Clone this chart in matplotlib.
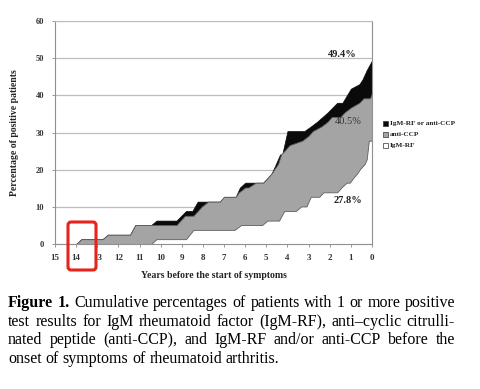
import matplotlib
matplotlib.use("Agg")
import matplotlib.pyplot as plt
from matplotlib.patches import FancyBboxPatch, Rectangle
from matplotlib.transforms import IdentityTransform

# cumulative % of patients, breakpoints (years before symptoms, percent)
total_years = [15, 14.0, 13.75, 12.75, 12.5, 11.45, 11.2, 10.45, 10.2, 9.25, 8.8, 8.5,
               8.25, 7.2, 7.0, 6.45, 6.25, 6.0, 5.15, 4.95, 4.75, 4.55, 4.35, 4.25,
               4.0, 3.2, 2.9, 2.6, 2.1, 1.65, 1.4, 1.0, 0.6, 0.45, 0.25, 0]
total_pct = [0, 0, 1.3, 1.3, 2.5, 2.5, 5.1, 5.1, 6.3, 6.3, 8.9, 8.9,
             11.4, 11.4, 12.7, 12.7, 15.2, 16.5, 16.5, 17.7, 19.0, 21.5, 24.1, 24.1,
             30.4, 30.4, 31.6, 32.9, 35.4, 38.0, 38.0, 41.8, 43.0, 44.3, 46.8, 49.4]

ccp_years = [15, 14.0, 13.75, 12.75, 12.5, 11.45, 11.2, 9.25, 8.85, 8.45, 8.05, 7.75,
             7.2, 7.0, 6.45, 6.3, 6.0, 5.85, 5.5, 5.15, 4.95, 4.75, 4.6, 4.45, 4.3,
             4.1, 3.9, 3.3, 3.0, 2.8, 2.4, 2.1, 1.9, 1.5, 1.3, 1.0, 0.6, 0.4, 0.1, 0]
ccp_pct = [0, 0, 1.3, 1.3, 2.5, 2.5, 5.1, 5.1, 7.6, 7.6, 10.1, 11.4,
           11.4, 12.7, 12.7, 13.9, 15.2, 15.2, 16.5, 16.5, 17.7, 19.0, 20.3, 21.5, 24.1,
           25.3, 26.6, 27.8, 29.1, 30.4, 31.6, 32.9, 34.2, 34.2, 35.4, 36.7, 38.0, 39.2, 39.2, 40.5]

rf_years = [15, 10.45, 10.2, 8.8, 8.45, 6.5, 6.2, 5.2, 4.95, 4.4, 4.15, 3.6, 3.35,
            3.1, 2.9, 2.5, 2.3, 1.65, 1.45, 1.2, 1.05, 0.9, 0.7, 0.55, 0.35, 0.25, 0.15, 0]
rf_pct = [0, 0, 1.3, 1.3, 3.8, 3.8, 5.1, 5.1, 6.3, 6.3, 8.9, 8.9, 10.1,
          10.1, 12.7, 12.7, 13.9, 13.9, 15.2, 16.5, 16.5, 17.7, 19.0, 20.3, 21.5, 22.8, 27.8, 27.8]

year_ticks = list(range(15, -1, -1))
pct_ticks = [0, 10, 20, 30, 40, 50, 60]
series_labels = ["IgM-RF or anti-CCP", "anti-CCP", "IgM-RF"]
end_labels = ["49.4%", "40.5%", "27.8%"]

caption = [
    [("Figure", True), ("1.", True)] + [(w, False) for w in
        "Cumulative percentages of patients with 1 or more positive".split()],
    [(w, False) for w in
        "test results for IgM rheumatoid factor (IgM-RF), anti\u2013cyclic citrulli-".split()],
    [(w, False) for w in
        "nated peptide (anti-CCP), and IgM-RF and/or anti-CCP before the".split()],
    [(w, False) for w in "onset of symptoms of rheumatoid arthritis.".split()],
]

W, H = 480, 389
SERIF = "Liberation Serif"
plt.rcParams["font.family"] = SERIF

fig = plt.figure(figsize=(W / 100, H / 100), dpi=100)
ax = fig.add_axes([55 / W, 1 - 244 / H, 317 / W, 223 / H])

BLACK = "#0a0a0a"
GREY = "#a4a4a4"
EDGE = "#5e5e5e"
ax.fill_between(total_years, 0, total_pct, facecolor=BLACK, edgecolor=BLACK, lw=0.5, zorder=2)
ax.fill_between(ccp_years, 0, ccp_pct, facecolor=GREY, edgecolor=EDGE, lw=0.6, zorder=3)
ax.fill_between(rf_years, 0, rf_pct, facecolor="white", edgecolor=EDGE, lw=0.6, zorder=4)

ax.set_xlim(15, 0)
ax.set_ylim(0, 60)
ax.set_xticks(year_ticks)
ax.set_xticklabels([str(t) for t in year_ticks], fontsize=6.5, fontweight="bold", color="#333333")
ax.set_yticks(pct_ticks)
ax.set_yticklabels([str(t) for t in pct_ticks], fontsize=6, fontweight="bold", color="#333333")
ax.tick_params(axis="x", length=2, width=0.6, pad=5, color="#888888")
ax.tick_params(axis="y", length=2, width=0.6, pad=6, color="#888888")
ax.yaxis.grid(True, color="#bdbdbd", lw=0.9)
ax.set_axisbelow(True)
for side in ["left", "bottom", "right", "top"]:
    ax.spines[side].set_color("#909090")
    ax.spines[side].set_linewidth(0.8)
ax.spines["top"].set_color("#bdbdbd")
for sp in ax.spines.values():
    sp.set_zorder(5)

ax.set_xlabel("Years before the start of symptoms", fontsize=7, fontweight="bold",
              color="#222222", labelpad=7)
ax.set_ylabel("Percentage of positive patients", fontsize=7, fontweight="bold",
              color="#222222", labelpad=12)

# end-value labels
ax.text(1.4, total_pct[-1] + 1.6, end_labels[0], fontsize=7.5, fontweight="bold",
        color="#222222", ha="center", va="center", zorder=6)
ax.text(1.15, ccp_pct[-1] - 7.6, end_labels[1], fontsize=7.5, color="#333333",
        ha="center", va="center", zorder=6)
ax.text(1.15, rf_pct[-1] - 16.2, end_labels[2], fontsize=7.5, fontweight="bold",
        color="#222222", ha="center", va="center", zorder=6)

# legend
leg_colors = [BLACK, GREY, "white"]
for i, (lab, col) in enumerate(zip(series_labels, leg_colors)):
    yc = H - (123 + 11 * i)
    fig.patches.append(Rectangle((383, yc - 2.5), 5, 5, transform=IdentityTransform(),
                                 facecolor=col, edgecolor="#333333", lw=0.5, figure=fig))
    fig.text(390, yc, lab, transform=IdentityTransform(), fontsize=5.2, fontweight="bold",
             color="#222222", va="center", ha="left")

# red highlight box
fig.patches.append(FancyBboxPatch((68, H - 270), 28, 48, boxstyle="round,pad=0,rounding_size=3",
                                  transform=IdentityTransform(), facecolor="none",
                                  edgecolor="#e8231b", lw=2.2, figure=fig, zorder=10))

# caption, justified lines
renderer = fig.canvas.get_renderer()
x0, x1 = 8, 455
line_y = [303, 322, 340, 359]
for li, (words, ly) in enumerate(zip(caption, line_y)):
    texts = []
    for w, bold in words:
        t = fig.text(0, H - ly, w, transform=IdentityTransform(), fontsize=11.5,
                     fontweight="bold" if bold else "normal", color="black",
                     va="center", ha="left")
        texts.append(t)
    widths = [t.get_window_extent(renderer).width for t in texts]
    if li < len(caption) - 1:
        gap = (x1 - x0 - sum(widths)) / (len(texts) - 1)
    else:
        gap = 3.8
    x = x0
    for t, wd in zip(texts, widths):
        t.set_x(x)
        x += wd + gap

fig.savefig("out.png", dpi=100)
